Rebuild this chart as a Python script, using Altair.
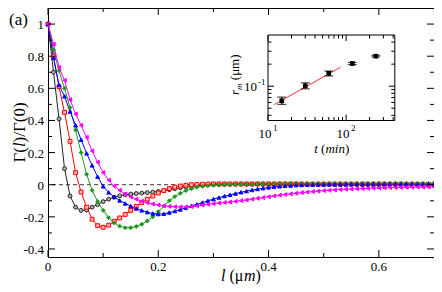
import altair as alt
import pandas as pd

# ---------------- data ----------------
L = [round(i * 0.01, 2) for i in range(71)]

black = [1.0, 0.70, 0.41, 0.10, -0.07, -0.14, -0.16, -0.158, -0.14, -0.124,
         -0.105, -0.09, -0.078, -0.069, -0.062, -0.058, -0.055, -0.052, -0.049, -0.046,
         -0.042, -0.037, -0.031, -0.025, -0.019, -0.014, -0.01, -0.006, -0.003, -0.001,
         0.0, 0.001, 0.002, 0.002, 0.003, 0.003, 0.003, 0.003, 0.003, 0.003,
         0.003, 0.003, 0.003, 0.003, 0.003, 0.003, 0.003, 0.002, 0.002, 0.002,
         0.002, 0.002, 0.002, 0.002, 0.002, 0.002, 0.002, 0.002, 0.002, 0.002,
         0.002, 0.002, 0.002, 0.002, 0.002, 0.002, 0.002, 0.002, 0.002, 0.002,
         0.002]
red = [1.0, 0.80, 0.61, 0.45, 0.27, 0.075, -0.045, -0.14, -0.215, -0.255,
       -0.265, -0.252, -0.228, -0.207, -0.185, -0.16, -0.135, -0.112, -0.09, -0.07,
       -0.052, -0.036, -0.024, -0.015, -0.008, -0.003, 0.0, 0.002, 0.003, 0.004,
       0.005, 0.005, 0.005, 0.005, 0.005, 0.005, 0.005, 0.005, 0.005, 0.005,
       0.005, 0.005, 0.005, 0.005, 0.005, 0.005, 0.004, 0.004, 0.004, 0.004,
       0.004, 0.004, 0.004, 0.004, 0.004, 0.004, 0.004, 0.004, 0.004, 0.004,
       0.004, 0.004, 0.004, 0.004, 0.004, 0.003, 0.003, 0.003, 0.003, 0.003,
       0.003]
green = [1.0, 0.84, 0.71, 0.60, 0.48, 0.34, 0.20, 0.065, -0.035, -0.105,
         -0.16, -0.205, -0.238, -0.258, -0.268, -0.268, -0.26, -0.246, -0.226, -0.2,
         -0.168, -0.132, -0.1, -0.074, -0.053, -0.037, -0.025, -0.016, -0.01, -0.006,
         -0.003, -0.001, 0.0, 0.001, 0.002, 0.003, 0.004, 0.004, 0.005, 0.005,
         0.005, 0.006, 0.006, 0.006, 0.006, 0.007, 0.007, 0.007, 0.007, 0.007,
         0.007, 0.007, 0.007, 0.007, 0.007, 0.007, 0.007, 0.007, 0.007, 0.007,
         0.008, 0.008, 0.008, 0.008, 0.008, 0.008, 0.008, 0.008, 0.008, 0.008,
         0.008]
blue = [1.0, 0.79, 0.62, 0.55, 0.455, 0.37, 0.28, 0.195, 0.12, 0.05,
        -0.01, -0.048, -0.076, -0.098, -0.117, -0.133, -0.148, -0.16, -0.171, -0.179,
        -0.183, -0.181, -0.173, -0.164, -0.154, -0.143, -0.132, -0.122, -0.111, -0.1,
        -0.09, -0.08, -0.071, -0.063, -0.055, -0.047, -0.04, -0.033, -0.027, -0.022,
        -0.017, -0.013, -0.01, -0.007, -0.005, -0.003, -0.002, -0.001, 0.0, 0.001,
        0.001, 0.002, 0.002, 0.002, 0.003, 0.003, 0.003, 0.003, 0.003, 0.003,
        0.003, 0.003, 0.003, 0.003, 0.003, 0.003, 0.003, 0.003, 0.003, 0.003,
        0.003]
magenta = [1.0, 0.875, 0.73, 0.65, 0.53, 0.44, 0.37, 0.295, 0.21, 0.14,
           0.075, 0.028, -0.008, -0.035, -0.058, -0.076, -0.09, -0.102, -0.112, -0.12,
           -0.126, -0.131, -0.135, -0.137, -0.138, -0.138, -0.136, -0.132, -0.127, -0.122,
           -0.118, -0.114, -0.111, -0.108, -0.104, -0.099, -0.095, -0.09, -0.085, -0.08,
           -0.075, -0.07, -0.065, -0.061, -0.057, -0.053, -0.049, -0.046, -0.043, -0.04,
           -0.037, -0.035, -0.032, -0.03, -0.028, -0.027, -0.025, -0.024, -0.023, -0.021,
           -0.02, -0.019, -0.018, -0.018, -0.017, -0.016, -0.016, -0.015, -0.015, -0.014,
           -0.014]

series_names = ["15 min", "30 min", "60 min", "120 min", "240 min"]
series_values = [black, red, green, blue, magenta]
line_colors = ["#222222", "#ff0000", "#1a9a1a", "#0000ff", "#ff00ff"]
fill_colors = ["#b0b0b0", "#ffb4b4", "#1a9a1a", "#0000ff", "#ff00ff"]
shapes = ["circle", "square", "diamond", "triangle-up", "triangle-left"]

x_major = [0, 0.2, 0.4, 0.6]
x_minor = [0.1, 0.3, 0.5]
y_major = [-0.4, -0.2, 0, 0.2, 0.4, 0.6, 0.8, 1.0]
y_minor = [-0.3, -0.1, 0.1, 0.3, 0.5, 0.7, 0.9]

# inset: r_m versus t
inset_t = [15, 30, 60, 120, 240]
inset_r = [0.0633, 0.101, 0.150, 0.204, 0.257]
inset_lo = [0.0564, 0.092, 0.138, 0.197, 0.251]
inset_hi = [0.071, 0.111, 0.161, 0.211, 0.264]
fit_t = [12, 85]
fit_r = [0.056, 0.182]
ix_major = [10, 100]
ix_minor = [20, 30, 40, 50, 60, 70, 80, 90, 200, 300, 400]
iy_major = [0.1]
iy_minor = [0.04, 0.05, 0.06, 0.07, 0.08, 0.09, 0.2, 0.3, 0.4]

# ---------------- layout ----------------
W, H = 386, 249
PADL = 40
SERIF = "Liberation Serif, Times New Roman, serif"
IX0, IX1 = 220.0, 346.8
IY0, IY1 = 27.0, 112.5


def fmt(v):
    s = ("%.1f" % abs(v)).rstrip("0").rstrip(".")
    return ("-" + s) if v < 0 else s


rows = []
for name, vals in zip(series_names, series_values):
    for l, v in zip(L, vals):
        rows.append({"l": l, "v": v, "series": name})
df = pd.DataFrame(rows)
one = pd.DataFrame({"k": [0]})

xs = alt.Scale(domain=[0, 0.7], nice=False, zero=False)
ys = alt.Scale(domain=[-0.45, 1.1], nice=False, zero=False)
X = lambda f: alt.X(f, scale=xs, axis=None)
Y = lambda f: alt.Y(f, scale=ys, axis=None)

lines = alt.Chart(df).mark_line(strokeWidth=1).encode(
    x=X("l:Q"), y=Y("v:Q"),
    color=alt.Color("series:N", scale=alt.Scale(domain=series_names, range=line_colors), legend=None),
    detail="series:N",
)
points = alt.Chart(df).mark_point(size=15, strokeWidth=1, opacity=1, fillOpacity=1).encode(
    x=X("l:Q"), y=Y("v:Q"),
    shape=alt.Shape("series:N", scale=alt.Scale(domain=series_names, range=shapes), legend=None),
    stroke=alt.Stroke("series:N", scale=alt.Scale(domain=series_names, range=line_colors), legend=None),
    fill=alt.Fill("series:N", scale=alt.Scale(domain=series_names, range=fill_colors), legend=None),
)
zero = alt.Chart(pd.DataFrame({"v": [0]})).mark_rule(
    color="black", strokeWidth=0.8, strokeDash=[4, 3]).encode(y=Y("v:Q"))


def xticks(vals, length):
    d = pd.DataFrame({"l": vals})
    base = alt.Chart(d).mark_rule(color="black", strokeWidth=1)
    return [
        base.encode(x=X("l:Q"), y=alt.value(H), y2=alt.value(H - length)),
        base.encode(x=X("l:Q"), y=alt.value(0), y2=alt.value(length)),
    ]


def yticks(vals, length):
    d = pd.DataFrame({"v": vals})
    base = alt.Chart(d).mark_rule(color="black", strokeWidth=1)
    return [
        base.encode(y=Y("v:Q"), x=alt.value(0), x2=alt.value(length)),
        base.encode(y=Y("v:Q"), x=alt.value(W), x2=alt.value(W - length)),
    ]


xlab = alt.Chart(pd.DataFrame({"l": x_major, "txt": [fmt(v) for v in x_major]})).mark_text(
    font=SERIF, fontSize=13, align="center", baseline="top", color="black").encode(
    x=X("l:Q"), y=alt.value(H + 4), text="txt:N")
ylab = alt.Chart(pd.DataFrame({"v": y_major, "txt": [fmt(v) for v in y_major]})).mark_text(
    font=SERIF, fontSize=13, align="right", baseline="middle", dy=1, color="black").encode(
    x=alt.value(-4), y=Y("v:Q"), text="txt:N")


def txt(s, x, y, size=13, style="normal", align="left", angle=0, baseline="alphabetic"):
    return alt.Chart(one).mark_text(
        text=s, font=SERIF, fontSize=size, fontStyle=style, align=align,
        baseline=baseline, angle=angle, color="black").encode(
        x=alt.value(x), y=alt.value(y))


# axis titles (mixed italic / upright pieces)
XT_Y = 273
x_title = [
    txt("l", 173.1, XT_Y, 16, "italic"),
    txt("(", 181.5, XT_Y, 16),
    txt("μ", 186.85, XT_Y, 16),
    txt("m", 196.05, XT_Y, 16, "italic"),
    txt(")", 207.6, XT_Y, 16),
]
YT_X = -23
y_title = [
    txt("Γ(", YT_X, 154.6, 17, angle=270),
    txt("l", YT_X, 139.1, 17, "italic", angle=270),
    txt(")/Γ(0)", YT_X, 134.4, 17, angle=270),
]
panel = txt("(a)", -39, 17, 17)

main = alt.layer(
    zero, lines, points,
    *xticks(x_major, 7), *xticks(x_minor, 4),
    *yticks(y_major, 7), *yticks(y_minor, 4),
    xlab, ylab, *x_title, *y_title, panel,
)

# ---------------- inset ----------------
ixs = alt.Scale(type="log", domain=[10, 420], range=[IX0, IX1], nice=False)
iys = alt.Scale(type="log", domain=[0.034, 0.5], range=[IY1, IY0], nice=False)
IXf = lambda f: alt.X(f, scale=ixs, axis=None)
IYf = lambda f: alt.Y(f, scale=iys, axis=None)

idf = pd.DataFrame({"t": inset_t, "r": inset_r, "lo": inset_lo, "hi": inset_hi})
fdf = pd.DataFrame({"t": fit_t, "r": fit_r})

box = alt.Chart(one).mark_rect(fill="white", stroke="black", strokeWidth=1).encode(
    x=alt.value(IX0), x2=alt.value(IX1), y=alt.value(IY0), y2=alt.value(IY1))


def ixticks(vals, length):
    d = pd.DataFrame({"t": vals})
    base = alt.Chart(d).mark_rule(color="black", strokeWidth=1)
    return [
        base.encode(x=IXf("t:Q"), y=alt.value(IY1), y2=alt.value(IY1 - length)),
        base.encode(x=IXf("t:Q"), y=alt.value(IY0), y2=alt.value(IY0 + length)),
    ]


def iyticks(vals, length):
    d = pd.DataFrame({"r": vals})
    base = alt.Chart(d).mark_rule(color="black", strokeWidth=1)
    return [
        base.encode(y=IYf("r:Q"), x=alt.value(IX0), x2=alt.value(IX0 + length)),
        base.encode(y=IYf("r:Q"), x=alt.value(IX1), x2=alt.value(IX1 - length)),
    ]


fit = alt.Chart(fdf).mark_line(color="#ff3030", strokeWidth=1).encode(x=IXf("t:Q"), y=IYf("r:Q"))
ebar = alt.Chart(idf).mark_rule(color="black", strokeWidth=1.2).encode(
    x=IXf("t:Q"), y=IYf("lo:Q"), y2="hi:Q")
cap_lo = alt.Chart(idf).mark_tick(color="black", orient="horizontal", size=9, thickness=1.2).encode(
    x=IXf("t:Q"), y=IYf("lo:Q"))
cap_hi = alt.Chart(idf).mark_tick(color="black", orient="horizontal", size=9, thickness=1.2).encode(
    x=IXf("t:Q"), y=IYf("hi:Q"))
ipts = alt.Chart(idf).mark_square(color="black", size=22, opacity=1).encode(x=IXf("t:Q"), y=IYf("r:Q"))

xlab_df = pd.DataFrame({"t": ix_major, "base": ["10", "10"], "exp": ["1", "2"]})
ix_base = alt.Chart(xlab_df).mark_text(font=SERIF, fontSize=13, align="center", dx=-3, color="black").encode(
    x=IXf("t:Q"), y=alt.value(IY1 + 13), text="base:N")
ix_exp = alt.Chart(xlab_df).mark_text(font=SERIF, fontSize=9, align="left", dx=5, color="black").encode(
    x=IXf("t:Q"), y=alt.value(IY1 + 7), text="exp:N")
ylab_df = pd.DataFrame({"r": iy_major, "base": ["10"], "exp": ["-1"]})
iy_base = alt.Chart(ylab_df).mark_text(font=SERIF, fontSize=13, align="right", baseline="middle", dy=1, color="black").encode(
    x=alt.value(IX0 - 11), y=IYf("r:Q"), text="base:N")
iy_exp = alt.Chart(ylab_df).mark_text(font=SERIF, fontSize=9, align="left", baseline="middle", dy=-4, color="black").encode(
    x=alt.value(IX0 - 10), y=IYf("r:Q"), text="exp:N")

IT_Y = IY1 + 32
ix_title = [
    txt("t", 266.2, IT_Y, 13, "italic"),
    txt("(", 273.1, IT_Y, 13),
    txt("min", 277.4, IT_Y, 13, "italic"),
    txt(")", 296.9, IT_Y, 13),
]
IYT_X = 191
iy_title = [
    txt("r", IYT_X, 87, 13, "italic", angle=270),
    txt("m", IYT_X + 3, 81.9, 9, "italic", angle=270),
    txt("(μm)", IYT_X, 72.2, 13, angle=270),
]

inset = alt.layer(
    box, *ixticks(ix_major, 6), *ixticks(ix_minor, 3.5),
    *iyticks(iy_major, 6), *iyticks(iy_minor, 3.5),
    fit, ebar, cap_lo, cap_hi, ipts,
    ix_base, ix_exp, iy_base, iy_exp, *ix_title, *iy_title,
)

chart = alt.layer(main, inset).resolve_scale(
    x="independent", y="independent"
).properties(
    width=W, height=H,
    autosize=alt.AutoSizeParams(type="none"),
    padding={"left": PADL, "top": 0, "right": 0, "bottom": 27},
).configure_view(stroke="black", strokeWidth=1)

chart.save("out.html", embed_options={"renderer": "svg", "actions": False})
